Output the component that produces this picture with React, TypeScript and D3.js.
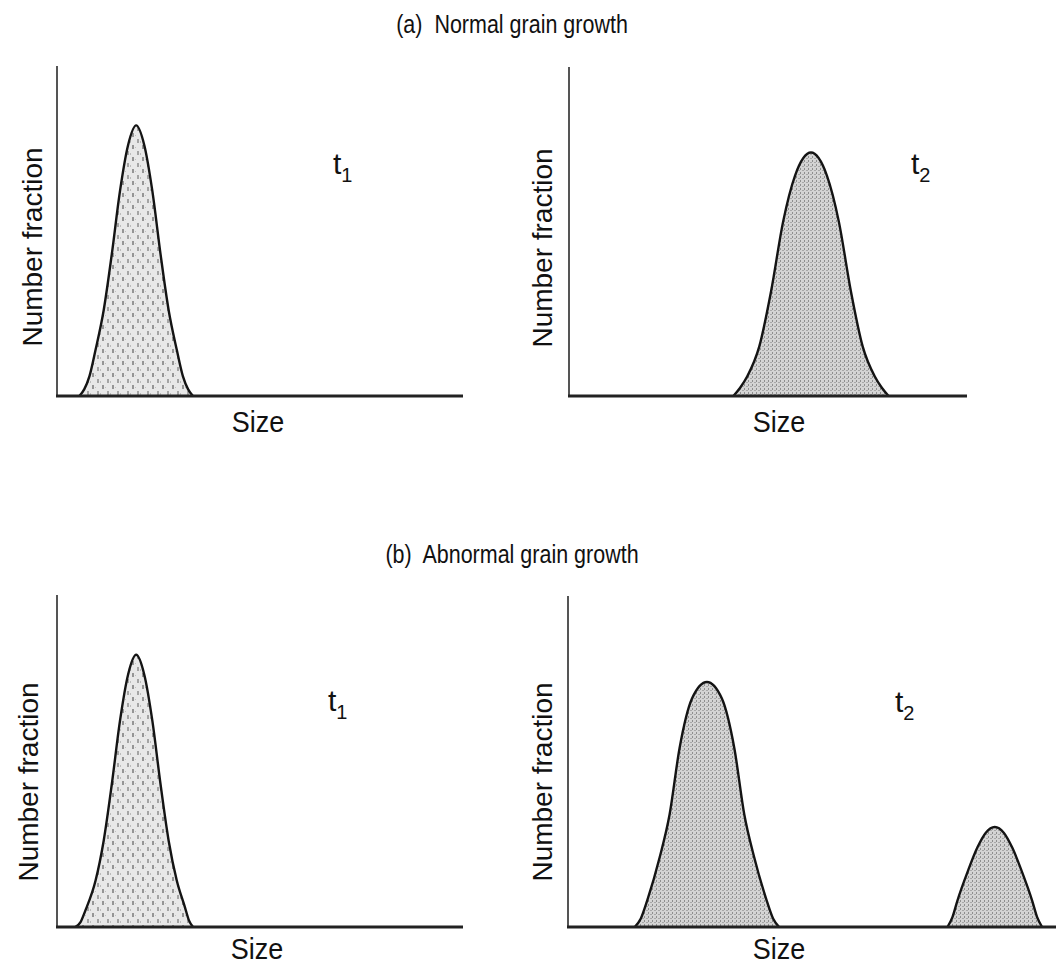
import React from "react";
import * as d3 from "d3";

// ---- data (size in % of axis length, number fraction in % of axis height) ----
const sizeA1 = [5.5, 6.7, 8, 9.5, 11.5, 13.5, 15.5, 17.5, 19.5, 21.5, 23.5, 25.5, 27.5, 29.5, 31, 32.3, 33.5];
const fracA1 = [0, 2, 6, 14, 26, 43, 62, 76, 82, 76, 62, 43, 26, 14, 6, 2, 0];

const sizeA2 = [41.3, 43, 44.8, 47.8, 50.8, 53.8, 56.8, 60.8, 64.8, 67.8, 70.8, 73.8, 76.8, 78.6, 80.3];
const fracA2 = [0, 2.5, 6, 15, 32, 53, 67, 74, 67, 53, 32, 15, 6, 2.5, 0];

const sizeB1 = [4.5, 5.8, 7, 9.5, 11.5, 13.5, 15.5, 17.5, 19.5, 21.5, 23.5, 25.5, 27.5, 29.5, 31.5, 32.5, 33.5];
const fracB1 = [0, 1.5, 5, 14, 26, 43, 62, 76, 82, 76, 62, 43, 26, 14, 6, 2, 0];

const sizeB2a = [13.4, 14.6, 15.9, 18.4, 20.4, 22.4, 24.9, 27.9, 30.9, 33.4, 35.4, 37.4, 39.9, 41.2, 42.4];
const fracB2a = [0, 2.5, 8, 21, 34, 54, 69, 74, 69, 54, 34, 21, 8, 2.5, 0];

const sizeB2b = [76.2, 77.2, 78.2, 80.2, 82.2, 83.9, 85.7, 87.5, 89.2, 91.2, 93.2, 94.2, 95.2];
const fracB2b = [0, 3, 8, 16.5, 24, 28.5, 30.2, 28.5, 24, 16.5, 8, 3, 0];

const titles = ["(a)  Normal grain growth", "(b)  Abnormal grain growth"];
const xLabel = "Size";
const yLabel = "Number fraction";
const timeLabels = ["1", "2"];

const FONT = "'Liberation Sans', Arial, Helvetica, sans-serif";

type Curve = { xs: number[]; ys: number[] };
type PanelProps = {
  left: number; right: number; top: number; bottom: number; axisEnd: number;
  curves: Curve[]; pattern: string; sub: string;
  tX: number; tY: number; yLabX: number; yLabY: number; sizeX: number; sizeY: number;
};

function Panel(p: PanelProps) {
  const x = d3.scaleLinear().domain([0, 100]).range([p.left, p.right]);
  const y = d3.scaleLinear().domain([0, 100]).range([p.bottom, p.top]);
  const area = d3.area<[number, number]>()
    .x(d => x(d[0])).y0(y(0)).y1(d => y(d[1]))
    .curve(d3.curveMonotoneX);
  const line = d3.line<[number, number]>()
    .x(d => x(d[0])).y(d => y(d[1]))
    .curve(d3.curveMonotoneX);
  return (
    <g>
      {p.curves.map((c, i) => {
        const pts = c.xs.map((v, j) => [v, c.ys[j]] as [number, number]);
        return (
          <g key={i}>
            <path d={area(pts) || ""} fill={`url(#${p.pattern})`} />
            <path d={line(pts) || ""} fill="none" stroke="#141414" strokeWidth={2.4} strokeLinejoin="round" />
          </g>
        );
      })}
      <line x1={p.left} x2={p.left} y1={p.top} y2={p.bottom} stroke="#555" strokeWidth={2} />
      <line x1={p.left - 1} x2={p.axisEnd} y1={p.bottom} y2={p.bottom} stroke="#222" strokeWidth={3} />
      <text x={p.tX} y={p.tY} fontFamily={FONT} fontSize={30} fill="#111">
        t<tspan dy={8} fontSize={20}>{p.sub}</tspan>
      </text>
      <text transform={`translate(${p.yLabX},${p.yLabY}) rotate(-90)`} textAnchor="middle"
        fontFamily={FONT} fontSize={28} fill="#111">{yLabel}</text>
      <text transform={`translate(${p.sizeX},${p.sizeY}) scale(1,1.08)`} textAnchor="middle"
        fontFamily={FONT} fontSize={27} fill="#111">{xLabel}</text>
    </g>
  );
}

export default function App() {
  return (
    <svg width={1056} height={966} style={{ position: "absolute", left: 0, top: 0, background: "#fff" }}>
      <defs>
        <pattern id="pL" width={10} height={12} patternUnits="userSpaceOnUse">
          <rect width={10} height={12} fill="#e8e8e8" />
          <rect x={2} y={1} width={2} height={4} fill="#959595" />
          <rect x={7} y={7} width={2} height={4} fill="#a4a4a4" />
          <rect x={5} y={3} width={1} height={1} fill="#c0c0c0" />
          <rect x={0} y={9} width={1} height={2} fill="#bcbcbc" />
        </pattern>
        <pattern id="pR" width={4} height={4} patternUnits="userSpaceOnUse">
          <rect width={4} height={4} fill="#d4d4d4" />
          <rect x={0} y={0} width={1} height={2} fill="#8e8e8e" />
          <rect x={2} y={2} width={2} height={1} fill="#a8a8a8" />
        </pattern>
      </defs>
      <text transform="translate(512,33) scale(1,1.18)" textAnchor="middle" fontFamily={FONT}
        fontSize={21.5} fill="#111" style={{ whiteSpace: "pre" }}>{titles[0]}</text>
      <text transform="translate(512,563) scale(1,1.18)" textAnchor="middle" fontFamily={FONT}
        fontSize={21.5} fill="#111" style={{ whiteSpace: "pre" }}>{titles[1]}</text>

      <Panel left={57} right={463} top={66} bottom={396} axisEnd={463}
        curves={[{ xs: sizeA1, ys: fracA1 }]} pattern="pL" sub={timeLabels[0]}
        tX={333} tY={174} yLabX={42} yLabY={247} sizeX={258} sizeY={432} />
      <Panel left={569} right={967} top={67} bottom={396} axisEnd={967}
        curves={[{ xs: sizeA2, ys: fracA2 }]} pattern="pR" sub={timeLabels[1]}
        tX={911} tY={174} yLabX={552} yLabY={248} sizeX={779} sizeY={432} />
      <Panel left={57} right={463} top={595} bottom={927} axisEnd={463}
        curves={[{ xs: sizeB1, ys: fracB1 }]} pattern="pL" sub={timeLabels[0]}
        tX={328} tY={711} yLabX={38} yLabY={782} sizeX={257} sizeY={959} />
      <Panel left={568} right={1066} top={596} bottom={927} axisEnd={1066}
        curves={[{ xs: sizeB2a, ys: fracB2a }, { xs: sizeB2b, ys: fracB2b }]} pattern="pR" sub={timeLabels[1]}
        tX={895} tY={712} yLabX={552} yLabY={782} sizeX={779} sizeY={959} />
    </svg>
  );
}
